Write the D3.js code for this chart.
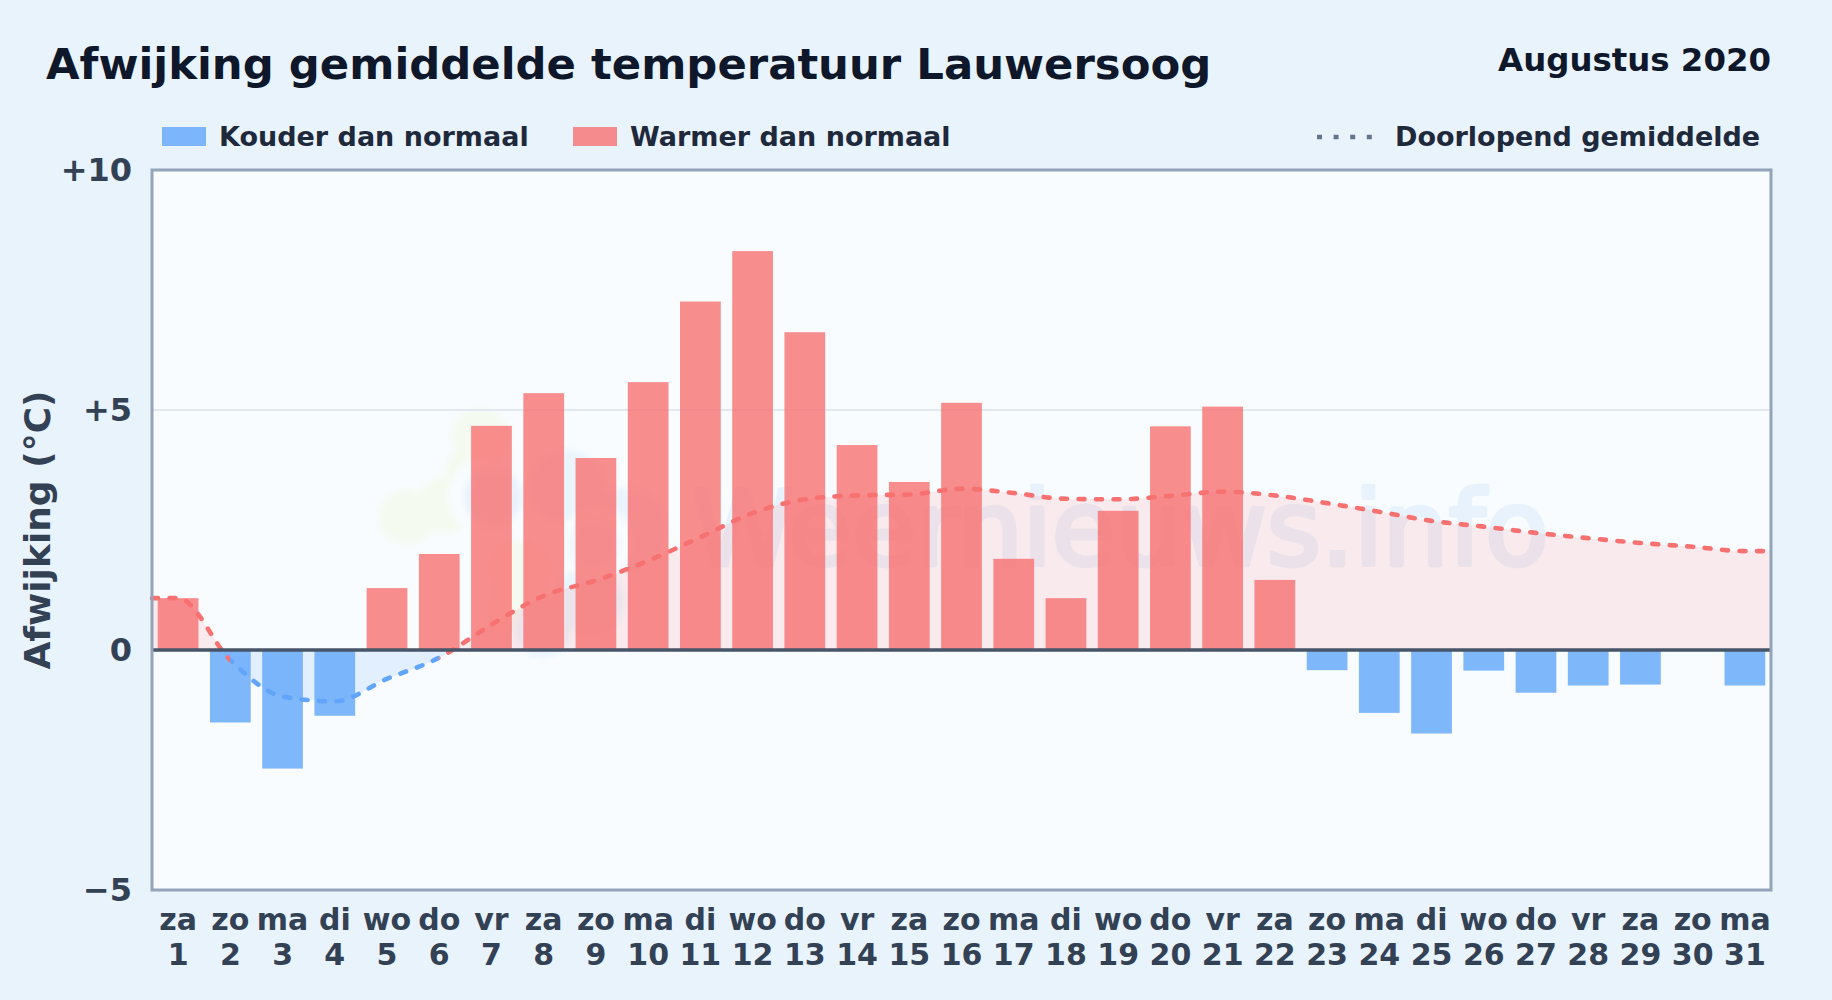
<!DOCTYPE html>
<html>
<head>
<meta charset="utf-8">
<script src="https://cdn.jsdelivr.net/npm/d3@7"></script>
<style>
  html, body { margin: 0; padding: 0; background: #e9f3fc; }
  svg { display: block; font-family: "DejaVu Sans", sans-serif; font-weight: 700; }
</style>
</head>
<body>
<svg width="1832" height="1000"></svg>
<script>
const weekdays = ['za','zo','ma','di','wo','do','vr','za','zo','ma','di','wo','do','vr','za','zo','ma','di','wo','do','vr','za','zo','ma','di','wo','do','vr','za','zo','ma'];
const days = d3.range(1, 32);
const deviation = [1.08,-1.51,-2.47,-1.37,1.29,2.0,4.67,5.35,4.0,5.58,7.26,8.31,6.62,4.27,3.5,5.15,1.9,1.08,2.9,4.66,5.07,1.46,-0.42,-1.31,-1.74,-0.43,-0.89,-0.74,-0.72,null,-0.74];
const runningMean = [1.08,-0.21,-0.97,-1.07,-0.6,-0.16,0.53,1.13,1.45,1.86,2.35,2.85,3.14,3.22,3.24,3.36,3.27,3.15,3.14,3.21,3.3,3.22,3.06,2.88,2.69,2.57,2.44,2.33,2.23,2.15,2.06];
const yTicks = [-5, 0, 5, 10];
const yTickLabels = ['−5', '0', '+5', '+10'];

const svg = d3.select('svg');
const width = +svg.attr('width');
const height = +svg.attr('height');

const plot = { left: 152, right: 1771, top: 170, bottom: 890 };
const red = '#f87171';
const blue = '#60a5fa';

const xScale = d3.scaleBand()
  .domain(days)
  .range([plot.left, plot.right])
  .paddingInner(0.22)
  .paddingOuter(0.11);
const yScale = d3.scaleLinear()
  .domain([-5, 10])
  .range([plot.bottom, plot.top]);
const xCenter = d => xScale(d) + xScale.bandwidth() / 2;

// plot background
svg.append('rect')
  .attr('x', plot.left).attr('y', plot.top)
  .attr('width', plot.right - plot.left).attr('height', plot.bottom - plot.top)
  .attr('fill', '#f8fcff');

// clip regions
const defs = svg.append('defs');
const clip = (id, rects) => defs.append('clipPath').attr('id', id)
  .selectAll('rect').data(rects).join('rect')
  .attr('x', d => d[0]).attr('y', d => d[1]).attr('width', d => d[2]).attr('height', d => d[3]);
const zeroY = yScale(0);
const plotW = plot.right - plot.left;
clip('above', [[plot.left, plot.top, plotW, zeroY - plot.top]]);
clip('below', [[plot.left, zeroY, plotW, plot.bottom - zeroY]]);
clip('lineBlue', [[xCenter(2), plot.top, xCenter(6) - xCenter(2), plot.bottom - plot.top]]);
clip('lineRed', [
  [plot.left - 4, plot.top, xCenter(2) - plot.left + 4, plot.bottom - plot.top],
  [xCenter(6), plot.top, plot.right - xCenter(6) + 4, plot.bottom - plot.top]
]);
defs.append('filter').attr('id', 'soft')
  .append('feGaussianBlur').attr('stdDeviation', 3);

// watermark, sits under the bars
const mark = svg.append('g');
const logoLayers = [
  ['#f5faf0', [[480,436,28],[407,517,28],[445,505,28],[470,470,24],[520,570,30],[510,610,20]]],
  ['#f8fcff', [[488,497,40]]],
  ['#e8f1fb', [[493,497,29]]],
  ['#eaf4fd', [[567,486,36],[543,630,28],[625,530,42],[590,600,34]]],
  ['#f8fcff', [[597,543,36]]],
  ['#eef6fd', [[594,545,26]]]
];
logoLayers.forEach(([color, circles]) => {
  mark.append('g').attr('filter', 'url(#soft)')
    .selectAll('circle').data(circles).join('circle')
    .attr('cx', d => d[0]).attr('cy', d => d[1]).attr('r', d => d[2]).attr('fill', color);
});
mark.append('text')
  .attr('x', 1549).attr('y', 565)
  .attr('text-anchor', 'end')
  .attr('font-size', 104)
  .attr('font-weight', 400)
  .attr('fill', '#e8f2fc')
  .attr('stroke', '#e8f2fc')
  .attr('stroke-width', 4.5)
  .attr('stroke-linejoin', 'round')
  .text('Weernieuws.info');

// grid line at +5
svg.append('line')
  .attr('x1', plot.left).attr('x2', plot.right)
  .attr('y1', yScale(5)).attr('y2', yScale(5))
  .attr('stroke', '#e2e8f0').attr('stroke-width', 2);

// running mean, stretched out to the plot edges
const meanPoints = days.map((d, i) => ({ x: xCenter(d), v: runningMean[i] }));
meanPoints.unshift({ x: plot.left, v: runningMean[0] });
meanPoints.push({ x: plot.right, v: runningMean[runningMean.length - 1] });

const area = d3.area()
  .x(d => d.x).y0(zeroY).y1(d => yScale(d.v))
  .curve(d3.curveMonotoneX);
const line = d3.line()
  .x(d => d.x).y(d => yScale(d.v))
  .curve(d3.curveMonotoneX);

svg.append('path').attr('d', area(meanPoints))
  .attr('fill', red).attr('fill-opacity', 0.13).attr('clip-path', 'url(#above)');
svg.append('path').attr('d', area(meanPoints))
  .attr('fill', blue).attr('fill-opacity', 0.15).attr('clip-path', 'url(#below)');

// bars
svg.append('g').selectAll('rect')
  .data(days.filter((d, i) => deviation[i] !== null))
  .join('rect')
  .attr('x', d => xScale(d))
  .attr('width', xScale.bandwidth())
  .attr('y', d => Math.min(yScale(deviation[d - 1]), zeroY))
  .attr('height', d => Math.abs(yScale(deviation[d - 1]) - zeroY))
  .attr('fill', d => deviation[d - 1] < 0 ? blue : red)
  .attr('fill-opacity', 0.8);

// dashed mean line, same path twice so the dashes stay in phase
[['lineRed', red], ['lineBlue', blue]].forEach(([id, color]) => {
  svg.append('path').attr('d', line(meanPoints))
    .attr('fill', 'none')
    .attr('stroke', color)
    .attr('stroke-width', 4.6)
    .attr('stroke-linecap', 'round')
    .attr('stroke-dasharray', '6 11.5')
    .attr('clip-path', `url(#${id})`);
});

// zero line and frame
svg.append('line')
  .attr('x1', plot.left).attr('x2', plot.right)
  .attr('y1', zeroY).attr('y2', zeroY)
  .attr('stroke', '#475569').attr('stroke-width', 3.5);
svg.append('rect')
  .attr('x', plot.left).attr('y', plot.top)
  .attr('width', plotW).attr('height', plot.bottom - plot.top)
  .attr('fill', 'none').attr('stroke', '#94a3b8').attr('stroke-width', 3);

// axes
const yAxis = d3.axisLeft(yScale)
  .tickValues(yTicks)
  .tickSize(0)
  .tickPadding(20)
  .tickFormat((d, i) => yTickLabels[i]);
const yAxisG = svg.append('g').attr('transform', `translate(${plot.left},0.5)`).call(yAxis);
yAxisG.select('.domain').remove();
yAxisG.selectAll('text')
  .attr('font-size', 32).attr('font-family', 'DejaVu Sans').attr('font-weight', 700).attr('fill', '#334155');

const xAxis = d3.axisBottom(xScale).tickSize(0).tickFormat('');
const xAxisG = svg.append('g').attr('transform', `translate(0,${plot.bottom})`).call(xAxis);
xAxisG.select('.domain').remove();
const xLabels = xAxisG.selectAll('.tick').select('text')
  .attr('y', 0).attr('dy', null)
  .attr('font-size', 30).attr('font-family', 'DejaVu Sans').attr('font-weight', 700).attr('fill', '#334155');
xLabels.append('tspan').attr('x', 0).attr('y', 40).text(d => weekdays[d - 1]);
xLabels.append('tspan').attr('x', 0).attr('y', 75).text(d => d);

svg.append('text')
  .attr('transform', 'translate(49.5,530) rotate(-90)')
  .attr('text-anchor', 'middle')
  .attr('font-size', 36)
  .attr('fill', '#334155')
  .text('Afwijking (°C)');

// titles
svg.append('text').attr('x', 46).attr('y', 79)
  .attr('font-size', 43.35).attr('fill', '#0f172a')
  .text('Afwijking gemiddelde temperatuur Lauwersoog');
svg.append('text').attr('x', 1771).attr('y', 70.5)
  .attr('text-anchor', 'end')
  .attr('font-size', 32.4).attr('fill', '#0f172a')
  .text('Augustus 2020');

// legend
const legendItems = [
  { label: 'Kouder dan normaal', color: blue, x: 162 },
  { label: 'Warmer dan normaal', color: red, x: 573 }
];
const legend = svg.append('g');
legendItems.forEach(item => {
  legend.append('rect')
    .attr('x', item.x).attr('y', 127).attr('width', 44).attr('height', 19)
    .attr('fill', item.color).attr('fill-opacity', 0.8);
  legend.append('text')
    .attr('x', item.x + 57).attr('y', 146)
    .attr('font-size', 27).attr('fill', '#1e293b')
    .text(item.label);
});
legend.append('line')
  .attr('x1', 1317).attr('x2', 1374).attr('y1', 137).attr('y2', 137)
  .attr('stroke', '#64748b').attr('stroke-width', 4.5)
  .attr('stroke-dasharray', '5 11.6');
legend.append('text')
  .attr('x', 1395).attr('y', 146)
  .attr('font-size', 27).attr('fill', '#1e293b')
  .text('Doorlopend gemiddelde');
</script>
</body>
</html>
